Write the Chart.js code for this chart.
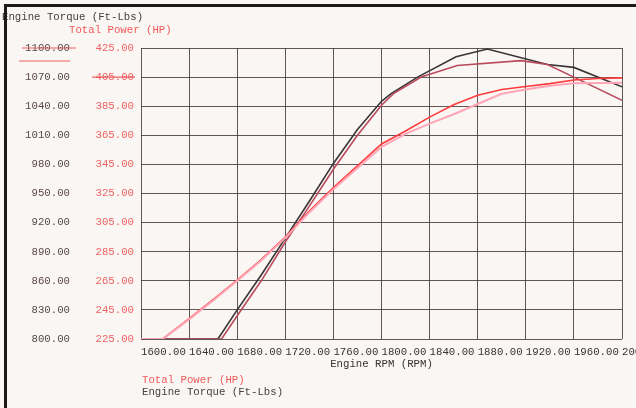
<!DOCTYPE html>
<html>
<head>
<meta charset="utf-8">
<script src="https://cdn.jsdelivr.net/npm/chart.js@4/dist/chart.umd.min.js"></script>
<style>
  html,body{margin:0;padding:0;background:#f9f6f4;}
  #wrap{position:relative;width:636px;height:408px;overflow:hidden;}
  #frame{position:absolute;left:4px;top:4px;right:-10px;bottom:-10px;border-left:3px solid #1e1a1a;border-top:3px solid #1e1a1a;pointer-events:none;}
  .lbl{position:absolute;font:10.7px "Liberation Mono",monospace;line-height:13px;white-space:pre;}
</style>
</head>
<body>
<div id="wrap">
  <canvas id="c" width="636" height="408"></canvas>
  <div class="lbl" style="left:2px;top:11px;color:#4a4040">Engine Torque (Ft-Lbs)</div>
  <div class="lbl" style="left:69px;top:24px;color:#f05a5a">Total Power (HP)</div>
  <div class="lbl" style="left:142px;top:374px;color:#f05a5a">Total Power (HP)</div>
  <div class="lbl" style="left:142px;top:386px;color:#4a4040">Engine Torque (Ft-Lbs)</div>
  <div id="frame"></div>
</div>
<script>
// run 1 / run 2
const torqueRpmA = [1600,1664,1680,1700,1720,1740,1760,1780,1800,1808,1830,1862,1888,1938,1960,2000];
const torqueA    = [800, 800, 830, 866, 904, 942, 981, 1016,1045,1053,1070,1091,1099,1083,1080,1060];
const torqueRpmB = [1600,1667,1680,1700,1720,1740,1760,1780,1800,1810,1833,1863,1916,1938,1960,2000];
const torqueB    = [800, 800, 824, 860, 900, 937, 975, 1010,1041,1053,1070,1082,1087,1083,1070,1046];
const powerRpm   = [1600,1618,1640,1660,1680,1700,1720,1740,1760,1780,1800,1820,1840,1860,1880,1900,1920,1940,1960,1980,2000];
const powerA     = [225, 225, 239, 252, 265.5,279.5,295,313,329,344,359,368,377.5,386,392.5,396.5,398.5,400.5,403,404,404.5];
const powerB     = [225, 225, 238.5,251.5,265,279,294.5,312,328,342.5,357,366,373,379.5,386.5,393.5,396.5,399,400.7,401,401.2];

const TORQUE_TICKS = {min:800, max:1100, step:30};
const POWER_TICKS  = {min:225, max:425, step:20};
const RPM_TICKS    = {min:1600, max:2000, step:40};

const pts = (xs, ys) => xs.map((x,i)=>({x, y:ys[i]}));
const MONO = {family:'"Liberation Mono", monospace', size:10.7};
const GRID = "rgba(72,58,58,0.85)";

// red pen marks on the scan
const penMarks = {
  id:"penMarks",
  afterDraw(chart){
    const {ctx, scales:{yT, yP}} = chart;
    ctx.save();
    ctx.strokeStyle = "rgba(235,80,80,0.9)";
    ctx.lineWidth = 1.2;
    const y1 = yT.getPixelForValue(1100);
    ctx.beginPath();
    ctx.moveTo(yT.right-58, y1); ctx.lineTo(yT.right-4, y1);
    ctx.moveTo(yT.right-61, y1+13); ctx.lineTo(yT.right-10, y1+13);
    const y2 = yP.getPixelForValue(405);
    ctx.moveTo(yP.right-49, y2); ctx.lineTo(yP.right-6, y2);
    ctx.stroke();
    ctx.restore();
  }
};

const zeroPad = s => { s.paddingLeft = 0; s.paddingRight = 0; s.paddingTop = 0; s.paddingBottom = 0; };

new Chart(document.getElementById("c").getContext("2d"), {
  type:"line",
  data:{ datasets:[
    {label:"Total Power (HP) 2", data:pts(powerRpm, powerB), yAxisID:"yP", borderColor:"#ffa6b6", borderWidth:2},
    {label:"Total Power (HP)", data:pts(powerRpm, powerA), yAxisID:"yP", borderColor:"#ff3b3b", borderWidth:1.6},
    {label:"Engine Torque 2", data:pts(torqueRpmB, torqueB), yAxisID:"yT", borderColor:"#b94a5c", borderWidth:1.6},
    {label:"Engine Torque (Ft-Lbs)", data:pts(torqueRpmA, torqueA), yAxisID:"yT", borderColor:"#3b3434", borderWidth:1.6}
  ]},
  options:{
    responsive:false,
    animation:false,
    layout:{ padding:{left:0, top:48, right:14, bottom:0} },
    elements:{ point:{radius:0}, line:{tension:0} },
    plugins:{ legend:{display:false}, tooltip:{enabled:false} },
    scales:{
      x:{
        type:"linear", min:RPM_TICKS.min, max:RPM_TICKS.max,
        ticks:{ stepSize:RPM_TICKS.step, align:"start", maxRotation:0, autoSkip:false,
                callback:v=>v.toFixed(2), font:MONO, color:"#3a3232", padding:7 },
        grid:{ color:GRID, lineWidth:1, drawTicks:false },
        border:{ display:false },
        title:{ display:true, text:"Engine RPM (RPM)", font:MONO, color:"#3a3232", padding:{top:0, bottom:37.6} },
        afterFit:s=>{ s.height = 69; zeroPad(s); }
      },
      yT:{
        position:"left", weight:1, min:TORQUE_TICKS.min, max:TORQUE_TICKS.max,
        ticks:{ stepSize:TORQUE_TICKS.step, callback:v=>v.toFixed(2), font:MONO, color:"#5a4848", padding:10 },
        grid:{ color:GRID, lineWidth:1, drawTicks:false },
        border:{ display:false },
        afterFit:s=>{ s.width = 80; zeroPad(s); }
      },
      yP:{
        position:"left", weight:0, min:POWER_TICKS.min, max:POWER_TICKS.max,
        ticks:{ stepSize:POWER_TICKS.step, callback:v=>v.toFixed(2), font:MONO, color:"#f06262", padding:7 },
        grid:{ display:false, drawTicks:false },
        border:{ display:false },
        afterFit:s=>{ s.width = 61; zeroPad(s); }
      }
    }
  },
  plugins:[penMarks]
});
</script>
</body>
</html>
